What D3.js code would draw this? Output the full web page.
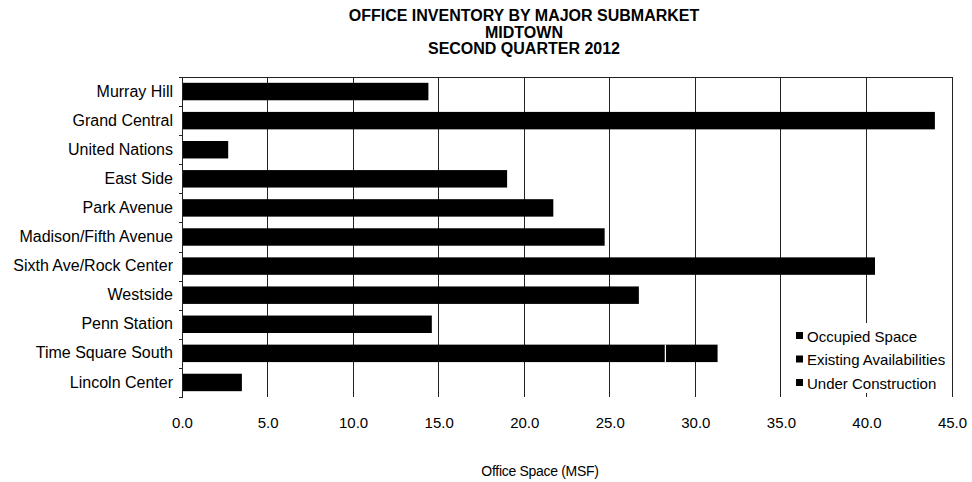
<!DOCTYPE html>
<html>
<head>
<meta charset="utf-8">
<script src="https://cdn.jsdelivr.net/npm/d3@7"></script>
<style>
  html, body { margin: 0; padding: 0; background: #fff; }
  svg { display: block; font-family: "Liberation Sans", Arial, sans-serif; }
</style>
</head>
<body>
<svg id="chart" width="972" height="482"></svg>
<script>
// Office inventory by submarket, Midtown, Q2 2012 (million square feet)
const categories = [
  "Murray Hill", "Grand Central", "United Nations", "East Side", "Park Avenue",
  "Madison/Fifth Avenue", "Sixth Ave/Rock Center", "Westside", "Penn Station",
  "Time Square South", "Lincoln Center"
];
const occupiedSpace          = [14.4, 44.0, 2.7, 19.0, 21.7, 24.7, 40.5, 26.7, 14.6, 28.2, 3.5];
const existingAvailabilities = [0, 0, 0, 0, 0, 0, 0, 0, 0, 0, 0];
const underConstruction      = [0, 0, 0, 0, 0, 0, 0, 0, 0, 3.1, 0];
const seriesNames = ["Occupied Space", "Existing Availabilities", "Under Construction"];
const xTicks = [0, 5, 10, 15, 20, 25, 30, 35, 40, 45];
const titleLines = ["OFFICE INVENTORY BY MAJOR SUBMARKET", "MIDTOWN", "SECOND QUARTER 2012"];
const xAxisTitle = "Office Space (MSF)";

const svg = d3.select("#chart");
const margin = { left: 182, right: 20, top: 77, bottom: 85 };
const W = 972, H = 482;
const plotL = margin.left, plotR = W - margin.right, plotT = margin.top, plotB = H - margin.bottom;

const x = d3.scaleLinear().domain([0, 45]).range([plotL, plotR]);
const y = d3.scaleBand().domain(categories).range([plotT, plotB]).paddingInner(0.4).paddingOuter(0.2);

// Title
svg.append("g").selectAll("text").data(titleLines).join("text")
  .attr("x", 524).attr("y", (d, i) => 21 + i * 16.5)
  .attr("text-anchor", "middle")
  .attr("font-size", 16).attr("font-weight", "bold").attr("fill", "#000")
  .text(d => d);

// Vertical gridlines
svg.append("g").selectAll("line").data(xTicks.filter(t => t > 0)).join("line")
  .attr("x1", d => x(d)).attr("x2", d => x(d))
  .attr("y1", plotT).attr("y2", plotB)
  .attr("stroke", "#222").attr("stroke-width", 1).attr("shape-rendering", "crispEdges");

// Top border of the plot area
svg.append("line")
  .attr("x1", plotL).attr("x2", plotR).attr("y1", plotT).attr("y2", plotT)
  .attr("stroke", "#222").attr("stroke-width", 1).attr("shape-rendering", "crispEdges");

// Stacked bars
const rows = categories.map((c, i) => ({
  category: c,
  "Occupied Space": occupiedSpace[i],
  "Existing Availabilities": existingAvailabilities[i],
  "Under Construction": underConstruction[i]
}));
const stacked = d3.stack().keys(seriesNames)(rows);

const layers = svg.append("g").selectAll("g").data(stacked).join("g").attr("fill", "#000");
layers.selectAll("rect").data(d => d).join("rect")
  .attr("x", d => x(d[0]))
  .attr("y", d => y(d.data.category))
  .attr("width", d => x(d[1]) - x(d[0]))
  .attr("height", y.bandwidth());

// Thin white separators where a later segment starts
layers.selectAll("line.sep").data((d, i) => i === 0 ? [] : d.filter(s => s[1] - s[0] > 0)).join("line")
  .attr("class", "sep")
  .attr("x1", d => Math.round(x(d[0])) + 0.5).attr("x2", d => Math.round(x(d[0])) + 0.5)
  .attr("y1", d => y(d.data.category)).attr("y2", d => y(d.data.category) + y.bandwidth())
  .attr("stroke", "#fff").attr("stroke-width", 1);

// Category axis
const yAxis = d3.axisLeft(y).tickSize(0).tickPadding(9);
const yg = svg.append("g").attr("transform", `translate(${plotL},0)`).call(yAxis);
yg.select(".domain").attr("stroke", "#222").attr("shape-rendering", "crispEdges");
yg.selectAll("text").attr("font-size", 16).attr("fill", "#000")
  .attr("font-family", "Liberation Sans, Arial, sans-serif");
// small marks between categories
svg.append("g").selectAll("line").data(d3.range(categories.length + 1)).join("line")
  .attr("x1", plotL - 3).attr("x2", plotL)
  .attr("y1", i => Math.round(plotT + i * y.step()) + 0.5)
  .attr("y2", i => Math.round(plotT + i * y.step()) + 0.5)
  .attr("stroke", "#222");

// Value axis labels
const xAxis = d3.axisBottom(x).tickValues(xTicks).tickFormat(d3.format(".1f")).tickSize(0).tickPadding(20);
const xg = svg.append("g").attr("transform", `translate(0,${plotB})`).call(xAxis);
xg.select(".domain").remove();
xg.selectAll("text").attr("font-size", 15).attr("fill", "#000")
  .attr("font-family", "Liberation Sans, Arial, sans-serif");

// Axis title
svg.append("text")
  .attr("x", 540).attr("y", 476)
  .attr("text-anchor", "middle").attr("font-size", 14).attr("letter-spacing", -0.3).attr("fill", "#000")
  .text(xAxisTitle);

// Legend
const lg = svg.append("g");
lg.append("rect").attr("x", 786).attr("y", 323).attr("width", 164).attr("height", 70).attr("fill", "#fff");
const items = lg.selectAll("g").data(seriesNames).join("g")
  .attr("transform", (d, i) => `translate(796,${336 + i * 23.5})`);
items.append("rect").attr("x", 0).attr("y", -4).attr("width", 7).attr("height", 7).attr("fill", "#000");
items.append("text").attr("x", 11).attr("y", 5.5).attr("font-size", 15).attr("fill", "#000").text(d => d);
</script>
</body>
</html>
